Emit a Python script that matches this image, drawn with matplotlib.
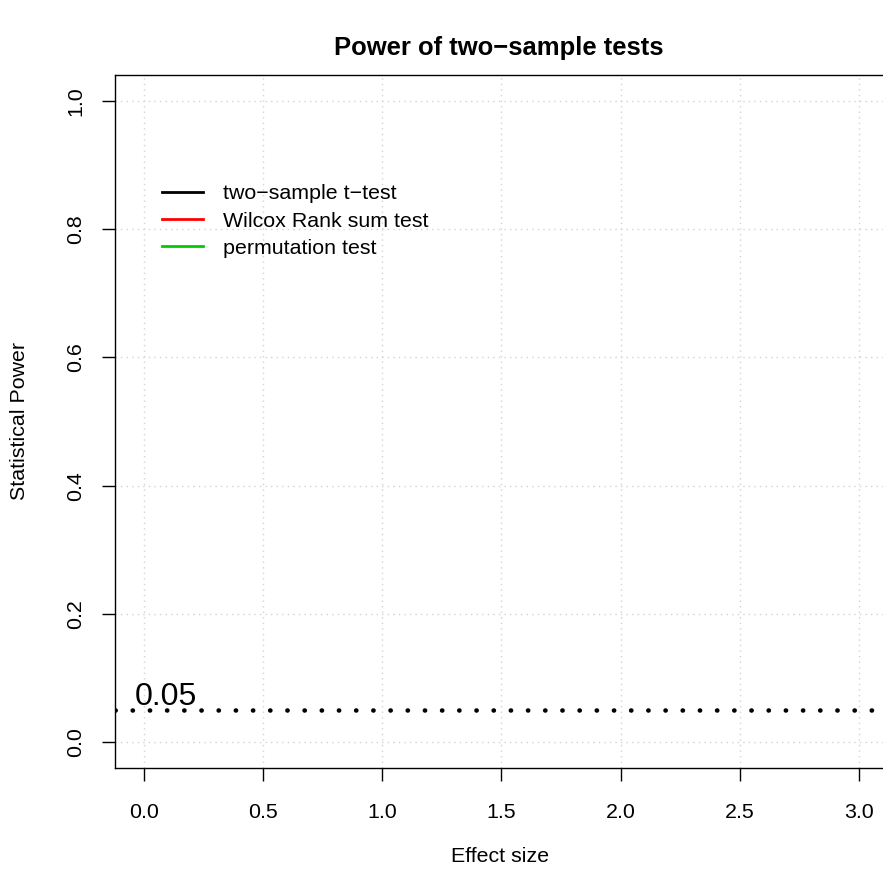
import matplotlib.pyplot as plt

plt.rcParams['font.family'] = ['Liberation Sans', 'DejaVu Sans']

# data
effect_size = []          # no curves were drawn in the original
power_ttest = []
power_wilcox = []
power_perm = []
series_labels = ['two\u2212sample t\u2212test', 'Wilcox Rank sum test', 'permutation test']
series_colors = ['black', '#FF0000', '#00CD00']
alpha = 0.05
x_ticks = [0.0, 0.5, 1.0, 1.5, 2.0, 2.5, 3.0]
y_ticks = [0.0, 0.2, 0.4, 0.6, 0.8, 1.0]

W, H = 883, 874
fig = plt.figure(figsize=(W / 100, H / 100), dpi=100)
ax = fig.add_axes([115 / W, (H - 768) / H, (888 - 115) / W, (768 - 75) / H])

fs = 15.4

# grid
for xv in x_ticks:
    ax.axvline(xv, color='#D3D3D3', lw=1, dashes=(1, 3), zorder=0)
for yv in y_ticks:
    ax.axhline(yv, color='#D3D3D3', lw=1, dashes=(1, 3), zorder=0)

# power curves (empty) for the legend
for ys, lab, col in zip([power_ttest, power_wilcox, power_perm], series_labels, series_colors):
    ax.plot(effect_size, ys, color=col, lw=2, label=lab)

# significance level
ax.axhline(alpha, color='black', lw=3.3, dashes=(0.05, 3.7), dash_capstyle='round')
ax.text(0.095, 0.058, f'{alpha:.2f}', fontsize=fs * 1.5, ha='center', va='baseline')

ax.set_xlim(-0.12, 3.12)
ax.set_ylim(-0.04, 1.04)
ax.set_xticks(x_ticks)
ax.set_xticklabels([f'{v:.1f}' for v in x_ticks])
ax.set_yticks(y_ticks)
ax.set_yticklabels([f'{v:.1f}' for v in y_ticks], rotation=90, va='center')
ax.tick_params(axis='both', direction='out', length=9.5, width=1, labelsize=fs, color='black')
ax.tick_params(axis='x', pad=16)
ax.tick_params(axis='y', pad=12)
for sp in ax.spines.values():
    sp.set_linewidth(1)

leg = ax.legend(loc='upper left', bbox_to_anchor=(0.061, 0.842), frameon=False, fontsize=fs,
                handlelength=1.9, handletextpad=0.95, labelspacing=0.38, borderpad=0, borderaxespad=0)

fig.text(499 / W, 1 - 48 / H, 'Power of two\u2212sample tests', fontsize=fs * 1.2, fontweight='bold',
         ha='center', va='center')
fig.text(500 / W, 1 - 857 / H, 'Effect size', fontsize=fs, ha='center', va='center')
fig.text(20 / W, 1 - 421 / H, 'Statistical Power', fontsize=fs, ha='center', va='center', rotation=90)

fig.savefig('out.png', dpi=100)
